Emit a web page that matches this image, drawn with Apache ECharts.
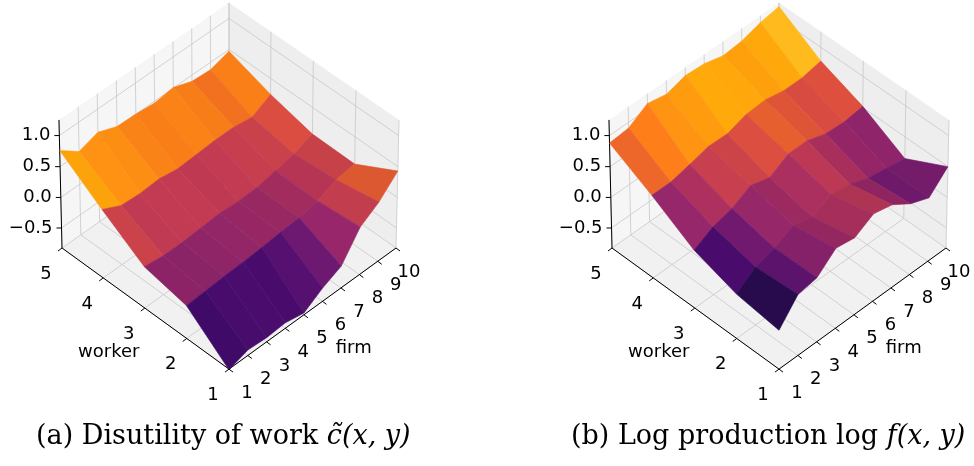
<!DOCTYPE html>
<html><head><meta charset="utf-8">
<script src="https://cdn.jsdelivr.net/npm/echarts@6/dist/echarts.min.js"></script>
<style>html,body{margin:0;padding:0;background:#fff}#c{width:974px;height:466px}</style>
</head><body><div id="c"></div>
<script>
// ---- data ----
const workers = [1, 2, 3, 4, 5];
const firms = [1, 2, 3, 4, 5, 6, 7, 8, 9, 10];
const zTicks = [-0.5, 0.0, 0.5, 1.0];
const zTickLabels = ['\u22120.5', '0.0', '0.5', '1.0'];
// rows: worker 1..5, columns: firm 1..10
const disutility = [
  [-0.84, -0.74, -0.76, -0.74, -0.80, -0.61, -0.47, -0.05, 0.14, 0.43],
  [-0.29, -0.27, -0.25, -0.24, -0.22, -0.19, -0.17, -0.11, 0.02, 0.06],
  [-0.15, -0.19, -0.19, -0.17, -0.15, -0.17, -0.16, -0.10, -0.04, 0.07],
  [0.29, 0.14, 0.12, 0.14, 0.09, 0.11, 0.13, 0.13, 0.08, 0.24],
  [0.76, 0.53, 0.63, 0.51, 0.50, 0.47, 0.51, 0.40, 0.38, 0.47]
];
const logProduction = [
  [-0.19, 0.17, 0.22, 0.48, 0.43, 0.60, 0.53, 0.33, 0.21, 0.50],
  [-0.10, 0.12, 0.21, 0.36, 0.28, 0.43, 0.38, 0.26, 0.21, 0.15],
  [0.12, 0.28, 0.36, 0.52, 0.43, 0.60, 0.60, 0.50, 0.48, 0.52],
  [0.52, 0.52, 0.59, 0.67, 0.66, 0.76, 0.78, 0.72, 0.72, 0.78],
  [0.88, 0.91, 1.09, 1.03, 1.12, 1.10, 1.02, 1.05, 1.14, 1.19]
];
const captions = [
  {pre: '(a) Disutility of work ', math: 'c\u0303(x, y)'},
  {pre: '(b) Log production log ', math: 'f(x, y)'}
];

// ---- projection (layout) ----
const ZLO = -0.83, ZHI = 1.25, D = 60;
const panelX = [229, 779];
const FRONT_Y = 369, SIDE_Y = 248, HALF_W = 167, TOP_Y = 120;
let E = 45, HZ = 0.8;
function raw(w, f, z, e, hz) {
  const s = Math.sin(e * Math.PI / 180), c = Math.cos(e * Math.PI / 180), r2 = Math.SQRT1_2;
  const X = (f - 5.5) / 4.5, Y = (w - 3) / 2, Z = ((z - (ZLO + ZHI) / 2) / ((ZHI - ZLO) / 2)) * hz;
  const dep = D - (-c * r2 * X - c * r2 * Y + s * Z);
  return [(X - Y) * r2 * D / dep, (s * r2 * (X + Y) + c * Z) * D / dep, dep];
}
function calib(e, hz) {
  const L = raw(5, 1, ZLO, e, hz);
  const k = HALF_W / -L[0];
  return {k, cy: SIDE_Y + k * L[1]};
}
(function solve() {
  let best = 1e9;
  for (let e = 25; e <= 65; e += 0.25) for (let hz = 0.4; hz <= 1.4; hz += 0.005) {
    const {k, cy} = calib(e, hz);
    const fy = cy - k * raw(1, 1, ZLO, e, hz)[1];
    const ty = cy - k * raw(5, 1, ZHI, e, hz)[1];
    const err = (fy - FRONT_Y) ** 2 + (ty - TOP_Y) ** 2;
    if (err < best) { best = err; E = e; HZ = hz; }
  }
})();
const CAL = calib(E, HZ);
function proj(p, w, f, z) {
  const q = raw(w, f, z, E, HZ);
  return [panelX[p] + CAL.k * q[0], CAL.cy - CAL.k * q[1], q[2]];
}

// ---- colour ----
const inferno = ['#000004','#160b39','#420a68','#6a176e','#932667','#bc3754','#dd513a','#f37819','#fca50a','#f6d746','#fcffa4'];
function hex(h){return [1,3,5].map(i=>parseInt(h.substr(i,2),16));}
function cmap(t, shade) {
  t = Math.max(0, Math.min(1, t)) * 10;
  const i = Math.min(9, Math.floor(t)), fr = t - i;
  const a = hex(inferno[i]), b = hex(inferno[i + 1]);
  const c = a.map((v, j) => Math.round(Math.min(255, (v + (b[j] - v) * fr) * shade)));
  return 'rgb(' + c.join(',') + ')';
}

function faceList(p, Z) {
  const all = Z.flat();
  const mn = Math.min(...all), mx = Math.max(...all);
  const faces = [];
  const Ld = [-0.667, -0.667, 0.333];
  for (let i = 0; i < workers.length - 1; i++) for (let j = 0; j < firms.length - 1; j++) {
    const pts = [[i, j], [i + 1, j], [i + 1, j + 1], [i, j + 1]].map(([a, b]) => [workers[a], firms[b], Z[a][b]]);
    const zm = (Z[i][j] + Z[i + 1][j] + Z[i + 1][j + 1] + Z[i][j + 1]) / 4;
    const dep = pts.reduce((s, q) => s + proj(p, q[0], q[1], q[2])[2], 0) / 4;
    const dzw = ((Z[i + 1][j] - Z[i][j]) + (Z[i + 1][j + 1] - Z[i][j + 1])) / 2;
    const dzf = ((Z[i][j + 1] - Z[i][j]) + (Z[i + 1][j + 1] - Z[i + 1][j])) / 2;
    const n = [-dzw, -dzf, 1]; const nl = Math.hypot(...n);
    const dot = (n[0] * Ld[0] + n[1] * Ld[1] + n[2] * Ld[2]) / nl;
    const shade = 0.3 + 0.7 * (dot + 1) / 2;
    const t = (zm - mn) / (mx - mn);
    faces.push({pts, dep, color: cmap(t, 0.55 + 0.45 * shade / 0.8)});
  }
  faces.sort((a, b) => b.dep - a.dep);
  return faces;
}

// ---- box elements ----
function boxElements(p) {
  const el = [];
  const poly = (pts, fill) => el.push({type: 'polygon', pts: pts.map(q => proj(p, ...q)), fill});
  const line = (a, b, color, width) => el.push({type: 'line', a: proj(p, ...a), b: proj(p, ...b), color, width});
  const w0 = workers[0], w1 = workers[workers.length - 1], f0 = firms[0], f1 = firms[firms.length - 1];
  poly([[w0, f0, ZLO], [w1, f0, ZLO], [w1, f1, ZLO], [w0, f1, ZLO]], '#f1f1f1');
  poly([[w1, f0, ZLO], [w1, f1, ZLO], [w1, f1, ZHI], [w1, f0, ZHI]], '#f6f6f6');
  poly([[w0, f1, ZLO], [w1, f1, ZLO], [w1, f1, ZHI], [w0, f1, ZHI]], '#eeeeee');
  const g = '#c8c8c8';
  workers.forEach(w => { line([w, f0, ZLO], [w, f1, ZLO], g, 0.8); line([w, f1, ZLO], [w, f1, ZHI], g, 0.8); });
  firms.forEach(f => { line([w0, f, ZLO], [w1, f, ZLO], g, 0.8); line([w1, f, ZLO], [w1, f, ZHI], g, 0.8); });
  zTicks.forEach(z => { line([w1, f0, z], [w1, f1, z], g, 0.8); line([w0, f1, z], [w1, f1, z], g, 0.8); });
  line([w0, f0, ZLO], [w1, f0, ZLO], '#000', 1);
  line([w0, f0, ZLO], [w0, f1, ZLO], '#000', 1);
  line([w1, f0, ZLO], [w1, f0, ZHI], '#000', 1);
  return el;
}

function ticksAndLabels(p) {
  const el = [];
  const w1 = workers[workers.length - 1];
  workers.forEach(w => {
    const q = proj(p, w, 1, ZLO);
    el.push({type: 'line', a: q, b: [q[0] - 4, q[1] + 3], color: '#000', width: 1});
    el.push({type: 'text', x: q[0] - 16, y: q[1] + 26, text: String(w)});
  });
  firms.forEach(f => {
    const q = proj(p, 1, f, ZLO);
    el.push({type: 'line', a: q, b: [q[0] + 4, q[1] + 3], color: '#000', width: 1});
    el.push({type: 'text', x: q[0] + (f === 10 ? 13 : 18), y: q[1] + 24, text: String(f)});
  });
  zTicks.forEach((z, i) => {
    const q = proj(p, w1, 1, z);
    el.push({type: 'line', a: q, b: [q[0] - 5, q[1]], color: '#000', width: 1});
    el.push({type: 'text', x: q[0] - 9, y: q[1], text: zTickLabels[i], align: 'right'});
  });
  const qw = proj(p, 3, 1, ZLO), qf = proj(p, 1, 6.5, ZLO);
  el.push({type: 'text', x: qw[0] - 36, y: qw[1] + 44, text: 'worker'});
  el.push({type: 'text', x: qf[0] + 22, y: qf[1] + 54, text: 'firm'});
  return el;
}

function renderGeneric(list) {
  return function (params, api) {
    const e = list[params.dataIndex];
    if (e.type === 'polygon') return {type: 'polygon', shape: {points: e.pts.map(q => api.coord([q[0], q[1]]))}, style: {fill: e.fill}};
    if (e.type === 'line') {
      const a = api.coord([e.a[0], e.a[1]]), b = api.coord([e.b[0], e.b[1]]);
      return {type: 'line', shape: {x1: a[0], y1: a[1], x2: b[0], y2: b[1]}, style: {stroke: e.color, lineWidth: e.width}};
    }
    const c = api.coord([e.x, e.y]);
    return {type: 'text', x: c[0], y: c[1], style: {text: e.text, fill: '#000', font: '18px "DejaVu Sans"', align: e.align || 'center', verticalAlign: 'middle'}};
  };
}
function renderFaces(p, faces) {
  return function (params, api) {
    const fc = faces[params.dataIndex];
    const pts = fc.pts.map(q => { const r = proj(p, q[0], q[1], q[2]); return api.coord([r[0], r[1]]); });
    return {type: 'polygon', shape: {points: pts}, style: {fill: fc.color, stroke: fc.color, lineWidth: 0.6}};
  };
}

const series = [];
[disutility, logProduction].forEach((Z, p) => {
  const box = boxElements(p), faces = faceList(p, Z), tl = ticksAndLabels(p);
  series.push({type: 'custom', renderItem: renderGeneric(box), data: box.map((_, i) => i), silent: true, clip: false});
  series.push({type: 'custom', renderItem: renderFaces(p, faces), data: faces.map((_, i) => i), silent: true, clip: false});
  series.push({type: 'custom', renderItem: renderGeneric(tl), data: tl.map((_, i) => i), silent: true, clip: false});
});

const chart = echarts.init(document.getElementById('c'));
chart.setOption({
  animation: false,
  grid: {left: 0, right: 0, top: 0, bottom: 0},
  xAxis: {type: 'value', min: 0, max: 974, show: false},
  yAxis: {type: 'value', min: 0, max: 466, inverse: true, show: false},
  series,
  graphic: captions.map((c, i) => ({
    type: 'text', left: i === 0 ? 36 : 571, top: 423,
    style: {
      text: '{n|' + c.pre + '}{m|' + c.math + '}',
      rich: {
        n: {font: '27px "DejaVu Serif"', fill: '#000'},
        m: {font: 'italic 27px "DejaVu Serif"', fill: '#000'}
      }
    }
  }))
});
</script></body></html>
